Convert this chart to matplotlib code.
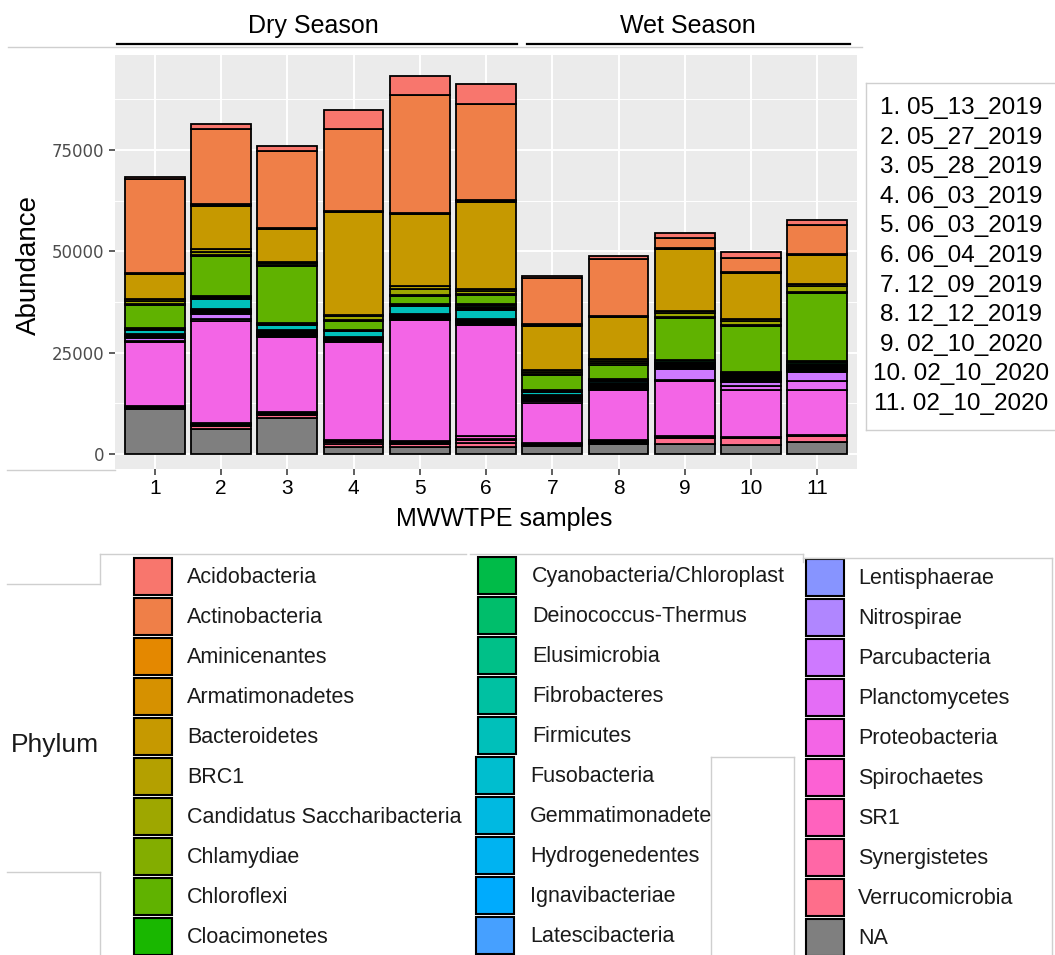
import numpy as np
import matplotlib
matplotlib.use("Agg")
import matplotlib.pyplot as plt
from matplotlib.patches import Rectangle

# samples and their dates
samples = [str(i) for i in range(1, 12)]
sample_dates = ["05_13_2019", "05_27_2019", "05_28_2019", "06_03_2019", "06_03_2019",
                "06_04_2019", "12_09_2019", "12_12_2019", "02_10_2020", "02_10_2020",
                "02_10_2020"]

phyla = ["Acidobacteria", "Actinobacteria", "Aminicenantes", "Armatimonadetes",
         "Bacteroidetes", "BRC1", "Candidatus Saccharibacteria", "Chlamydiae",
         "Chloroflexi", "Cloacimonetes", "Cyanobacteria/Chloroplast",
         "Deinococcus-Thermus", "Elusimicrobia", "Fibrobacteres", "Firmicutes",
         "Fusobacteria", "Gemmatimonadetes", "Hydrogenedentes", "Ignavibacteriae",
         "Latescibacteria", "Lentisphaerae", "Nitrospirae", "Parcubacteria",
         "Planctomycetes", "Proteobacteria", "Spirochaetes", "SR1", "Synergistetes",
         "Verrucomicrobia", "NA"]

# abundance per phylum, samples 1..11
acidobacteria = [660, 1320, 1240, 4540, 4620, 4785, 580, 740, 1400, 1485, 1400]
actinobacteria = [23100, 18480, 18975, 20200, 29200, 23760, 11385, 14025, 2475, 3465, 7000]
aminicenantes = [100, 200, 100, 100, 100, 200, 150, 100, 100, 100, 100]
armatimonadetes = [150, 250, 150, 150, 150, 250, 200, 150, 150, 100, 150]
bacteroidetes = [6200, 10725, 8000, 25400, 17740, 21600, 10900, 10310, 15260, 11385, 7180]
brc1 = [400, 550, 370, 470, 675, 485, 520, 485, 550, 450, 510]
saccharibacteria = [900, 900, 400, 900, 1500, 700, 500, 700, 900, 1000, 1500]
chlamydiae = [200, 200, 300, 200, 300, 300, 300, 300, 200, 200, 300]
chloroflexi = [5500, 9900, 14025, 2145, 1900, 2230, 3630, 3465, 10310, 11385, 16800]
cloacimonetes = [130, 130, 130, 70, 130, 250, 100, 100, 200, 200, 235]
cyanobacteria = [130, 130, 130, 70, 130, 300, 100, 100, 250, 300, 350]
deinococcus = [120, 120, 120, 70, 120, 270, 100, 100, 200, 240, 300]
elusimicrobia = [100, 100, 100, 60, 100, 250, 100, 100, 200, 250, 300]
fibrobacteres = [100, 100, 100, 60, 100, 250, 100, 100, 200, 250, 300]
firmicutes = [900, 2475, 1320, 1485, 1900, 2230, 700, 500, 200, 150, 150]
fusobacteria = [200, 250, 150, 100, 150, 150, 150, 150, 150, 150, 150]
gemmatimonadetes = [200, 250, 200, 100, 150, 150, 200, 200, 200, 200, 200]
hydrogenedentes = [100, 100, 100, 100, 100, 100, 150, 150, 100, 100, 100]
ignavibacteriae = [150, 200, 200, 150, 200, 200, 300, 250, 200, 200, 200]
latescibacteria = [100, 100, 100, 100, 150, 150, 200, 200, 100, 100, 100]
lentisphaerae = [100, 100, 100, 100, 100, 100, 100, 100, 100, 100, 100]
nitrospirae = [150, 200, 200, 150, 200, 200, 200, 200, 200, 200, 200]
parcubacteria = [800, 1400, 300, 250, 300, 300, 300, 250, 2720, 1000, 2230]
planctomycetes = [300, 400, 300, 200, 300, 300, 300, 300, 300, 1000, 2060]
proteobacteria = [15675, 25160, 18560, 24170, 29870, 27200, 9900, 12375, 13610, 11550, 11140]
spirochaetes = [200, 300, 200, 350, 250, 700, 200, 250, 150, 150, 100]
sr1 = [100, 200, 150, 200, 150, 400, 100, 100, 50, 50, 50]
synergistetes = [200, 400, 300, 400, 300, 700, 200, 250, 100, 100, 150]
verrucomicrobia = [300, 600, 800, 700, 600, 900, 300, 400, 1650, 1650, 1400]
unassigned = [11140, 6190, 8830, 1815, 1815, 1815, 1980, 2390, 2390, 2230, 3050]

abundance = [acidobacteria, actinobacteria, aminicenantes, armatimonadetes, bacteroidetes,
             brc1, saccharibacteria, chlamydiae, chloroflexi, cloacimonetes, cyanobacteria,
             deinococcus, elusimicrobia, fibrobacteres, firmicutes, fusobacteria,
             gemmatimonadetes, hydrogenedentes, ignavibacteriae, latescibacteria,
             lentisphaerae, nitrospirae, parcubacteria, planctomycetes, proteobacteria,
             spirochaetes, sr1, synergistetes, verrucomicrobia, unassigned]


def hcl(h, c=100.0, l=65.0):
    # polar LUV -> sRGB, like R's hcl()
    hr = np.radians(h)
    U, V = c * np.cos(hr), c * np.sin(hr)
    Y = 100.0 * ((l + 16.0) / 116.0) ** 3
    un, vn = 0.1978398, 0.4683363
    u = U / (13 * l) + un
    v = V / (13 * l) + vn
    X = 9.0 * Y * u / (4 * v)
    Z = -X / 3 - 5 * Y + 3 * Y / v
    X, Y, Z = X / 100, Y / 100, Z / 100
    rgb = [3.240479 * X - 1.537150 * Y - 0.498535 * Z,
           -0.969256 * X + 1.875992 * Y + 0.041556 * Z,
           0.055648 * X - 0.204043 * Y + 1.057311 * Z]
    out = []
    for t in rgb:
        t = 1.055 * t ** (1 / 2.4) - 0.055 if t > 0.00304 else 12.92 * t
        out.append(min(max(t, 0), 1))
    return tuple(out)


n = len(phyla) - 1
colors = [hcl(15 + i * 360.0 / n) for i in range(n)] + ["#7F7F7F"]

W, H = 1055, 955
fig = plt.figure(figsize=(W / 100, H / 100), dpi=100)
fig.patch.set_facecolor("white")

pl, pr, pt, pb = 115, 857, 55, 469
ax = fig.add_axes([pl / W, 1 - pb / H, (pr - pl) / W, (pb - pt) / H])
ax.set_facecolor("#EBEBEB")

x = np.arange(len(samples))
bottom = np.zeros(len(samples))
# ggplot stacks the first level on top -> draw from the last one
for name, vals, col in list(zip(phyla, abundance, colors))[::-1]:
    ax.bar(x, vals, bottom=bottom, width=0.9, color=col, edgecolor="black",
           linewidth=1.3, zorder=3)
    bottom += np.array(vals)

ax.set_xlim(-0.6, len(samples) - 0.4)
ax.set_ylim(-3700, 98440)
ax.set_xticks(x)
ax.set_xticklabels(samples, family=["Liberation Sans Narrow", "Liberation Sans"],
                   fontsize=15, color="black")
ax.set_yticks([0, 25000, 50000, 75000])
ax.set_yticklabels(["0", "25000", "50000", "75000"], fontsize=12, color="#4D4D4D")
ax.set_yticks([12500, 37500, 62500, 87500], minor=True)
ax.tick_params(axis="both", which="major", length=4, width=1.1, color="#333333")
ax.tick_params(axis="y", which="minor", length=0)
ax.grid(which="major", color="white", linewidth=1.4, zorder=0)
ax.grid(which="minor", axis="y", color="white", linewidth=0.7, zorder=0)
ax.set_axisbelow(True)
for s in ax.spines.values():
    s.set_visible(False)

ax.set_ylabel("Abundance", family="Liberation Sans", fontsize=20, va="center")
ax.yaxis.set_label_coords((29 - pl) / (pr - pl), (pb - 265) / (pb - pt))
ax.set_xlabel("MWWTPE samples", family=["Liberation Sans Narrow", "Liberation Sans"],
              fontsize=18, va="center")
ax.xaxis.set_label_coords((504 - pl) / (pr - pl), (pb - 519) / (pb - pt))

# overlay in pixel coordinates for the pasted-together annotations
ov = fig.add_axes([0, 0, 1, 1])
ov.set_xlim(0, W)
ov.set_ylim(H, 0)
ov.axis("off")
ov.patch.set_alpha(0)

frame = "#CFCFCF"
frame_lines = [
    ((8, 862), (47, 47)), ((7, 115), (470, 470)),
    ((866, 866), (83, 430)), ((866, 1055), (83, 83)), ((866, 1055), (430, 430)),
    ((100, 466), (554, 554)), ((100, 100), (554, 584)), ((7, 100), (584, 584)),
    ((7, 100), (872, 872)), ((100, 100), (872, 955)),
    ((470, 803), (554, 554)), ((803, 803), (554, 562)), ((803, 1052), (558, 558)),
    ((1052, 1052), (558, 955)),
    ((711, 794), (757, 757)), ((711, 711), (757, 955)), ((794, 794), (757, 955)),
]
for xs, ys in frame_lines:
    ov.plot(xs, ys, color=frame, linewidth=1)

# season headers
ov.plot([117, 517], [44, 44], color="black", linewidth=1.6)
ov.plot([527, 850], [44, 44], color="black", linewidth=1.6)
ov.text(313, 26, "Dry Season", family="Liberation Sans", fontsize=18,
        ha="center", va="center")
ov.text(688, 26, "Wet Season", family="Liberation Sans", fontsize=18,
        ha="center", va="center")

# sample date key
for i, d in enumerate(sample_dates):
    ov.text(961, 108 + i * 29.6, f"{i + 1}. {d}", family="Liberation Sans",
            fontsize=17.5, ha="center", va="center")

# phylum legend
ov.text(55, 745, "Phylum", family="Liberation Sans", fontsize=19,
        ha="center", va="center", color="#1A1A1A")
col_key_x = [134, 478, 806]
col_text_x = [187, 532, 858]
col_top = [576, 575, 577]
for k, (name, col) in enumerate(zip(phyla, colors)):
    c, r = divmod(k, 10)
    kx, tx = col_key_x[c], col_text_x[c]
    if c == 1 and r >= 5:
        kx, tx = kx - 2, tx - 2
    yc = col_top[c] + r * 40.1
    ov.add_patch(Rectangle((kx, yc - 18.5), 38, 37, facecolor=col,
                           edgecolor="black", linewidth=1.5))
    label = "Gemmatimonadete" if name == "Gemmatimonadetes" else name
    ov.text(tx, yc + 1, label, family="Liberation Sans", fontsize=15.5,
            ha="left", va="center", color="#1A1A1A")

fig.savefig("out.png", dpi=100)
